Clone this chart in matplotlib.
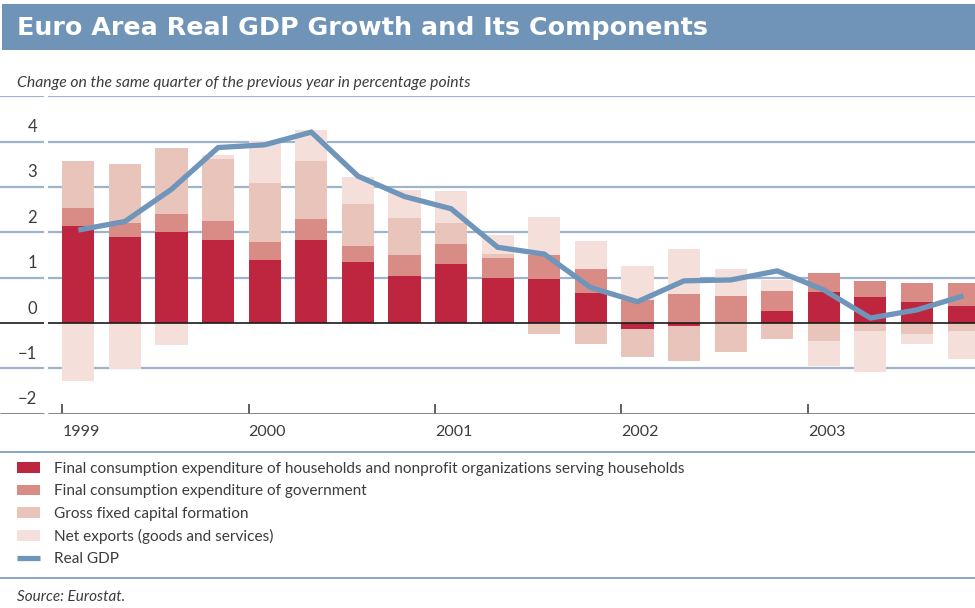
import matplotlib
matplotlib.use("Agg")
import matplotlib.pyplot as plt
import numpy as np

# Quarterly contributions, 1999Q1 .. 2003Q4 (percentage points)
quarters = np.arange(20)
households = [2.14, 1.90, 2.01, 1.83, 1.39, 1.83, 1.35, 1.04, 1.30, 0.99,
              0.97, 0.66, -0.13, -0.07, 0.00, 0.26, 0.68, 0.57, 0.46, 0.38]
government = [0.40, 0.31, 0.40, 0.42, 0.40, 0.46, 0.35, 0.46, 0.44, 0.44,
              0.53, 0.53, 0.51, 0.64, 0.60, 0.44, 0.42, 0.35, 0.42, 0.50]
gfcf = [1.03, 1.30, 1.46, 1.37, 1.30, 1.28, 0.93, 0.82, 0.46, 0.09,
        -0.24, -0.46, -0.62, -0.77, -0.64, -0.35, -0.39, -0.18, -0.24, -0.18]
net_exports = [-1.28, -1.02, -0.49, 0.09, 0.92, 0.69, 0.59, 0.62, 0.71, 0.42,
               0.84, 0.62, 0.75, 0.99, 0.60, 0.24, -0.55, -0.90, -0.22, -0.61]
real_gdp = [2.05, 2.24, 2.95, 3.87, 3.93, 4.21, 3.24, 2.79, 2.52, 1.67,
            1.52, 0.78, 0.47, 0.93, 0.95, 1.15, 0.73, 0.11, 0.29, 0.60]

years = ["1999", "2000", "2001", "2002", "2003"]
year_ticks = [0, 4, 8, 12, 16]
yticks = [-2, -1, 0, 1, 2, 3, 4]

labels = ["Final consumption expenditure of households and nonprofit organizations serving households",
          "Final consumption expenditure of government",
          "Gross fixed capital formation",
          "Net exports (goods and services)",
          "Real GDP"]
colors = ["#be2640", "#d98c85", "#e9c4bb", "#f5dfda"]
line_color = "#6f95ba"
grid_color = "#9db4cc"
text_color = "#3c3c3c"

plt.rcParams["font.family"] = ["Lato", "DejaVu Sans"]

W, H = 975, 608
fig = plt.figure(figsize=(W / 100, H / 100), dpi=100)

# overlay in pixel coordinates for the frame decorations
over = fig.add_axes([0, 0, 1, 1])
over.set_xlim(0, W)
over.set_ylim(H, 0)
over.axis("off")
over.add_patch(plt.Rectangle((2, 4), W, 46, color="#7094b8", lw=0))
over.text(17, 28, "Euro Area Real GDP Growth and Its Components", color="white",
          fontsize=18.3, fontweight="bold", family="DejaVu Sans", va="center", ha="left")
over.text(17, 83, "Change on the same quarter of the previous year in percentage points",
          fontsize=11.3, style="italic", color=text_color, va="center", ha="left")
over.plot([0, W], [451.5, 451.5], color="#7f9fc0", lw=1.3)
over.plot([0, W], [578, 578], color="#7f9fc0", lw=1.3)
over.text(17, 597, "Source: Eurostat.", fontsize=11, style="italic",
          color=text_color, va="center", ha="left")

ax = fig.add_axes([0, 1 - 413.7 / H, 1, (413.7 - 96.3) / H])
xl, xr = -1.337, 19.59
ax.set_xlim(xl, xr)
ax.set_ylim(-2, 5)
for s in ax.spines.values():
    s.set_visible(False)

# horizontal rules with the small gap next to the value labels
gap = (-0.393, -0.307)
for y in [-1, 1, 2, 3, 4, 5]:
    for a, b in [(xl, gap[0]), (gap[1], xr)]:
        ax.plot([a, b], [y, y], color=grid_color, lw=1.6, zorder=1, solid_capstyle="butt")
for a, b in [(xl, gap[0]), (gap[1], xr)]:
    ax.plot([a, b], [0, 0], color="#1a1a1a", lw=1.2, zorder=4, solid_capstyle="butt")
    ax.plot([a, b], [-2, -2], color="#7a7a7a", lw=2.0, zorder=4, solid_capstyle="butt")

# stacked bars, positives up from zero and negatives down from zero
series = [households, government, gfcf, net_exports]
pos_base = np.zeros(20)
neg_base = np.zeros(20)
handles = []
for vals, c in zip(series, colors):
    v = np.array(vals)
    bottom = np.where(v >= 0, pos_base, neg_base)
    bars = ax.bar(quarters, v, width=0.69, bottom=bottom, align="edge",
                  color=c, lw=0, zorder=2)
    handles.append(bars)
    pos_base = pos_base + np.where(v > 0, v, 0)
    neg_base = neg_base + np.where(v < 0, v, 0)

gdp_line, = ax.plot(quarters + 0.345, real_gdp, color=line_color, lw=3.8,
                    zorder=5, solid_capstyle="butt", solid_joinstyle="miter")
handles.append(gdp_line)

# y labels sit above their rules
ax.set_yticks([])
for y in yticks:
    ax.text(-0.545, y + 0.32, str(y).replace("-", "\u2212"), ha="right", va="center",
            fontsize=12, color=text_color)

ax.set_xticks(year_ticks)
ax.set_xticklabels(years, fontsize=11.5, color=text_color)
for lab in ax.get_xticklabels():
    lab.set_ha("left")
ax.tick_params(axis="x", direction="in", length=7, width=1.2, color="#444444", pad=8)

fig.legend(handles, labels, loc="upper left", bbox_to_anchor=(17 / W, 1 - 462 / H),
           frameon=False, fontsize=11.1, handlelength=1.5, handleheight=0.7,
           handletextpad=0.9, labelspacing=0.54, borderpad=0, borderaxespad=0,
           labelcolor=text_color)

fig.savefig("out.png", dpi=100)
